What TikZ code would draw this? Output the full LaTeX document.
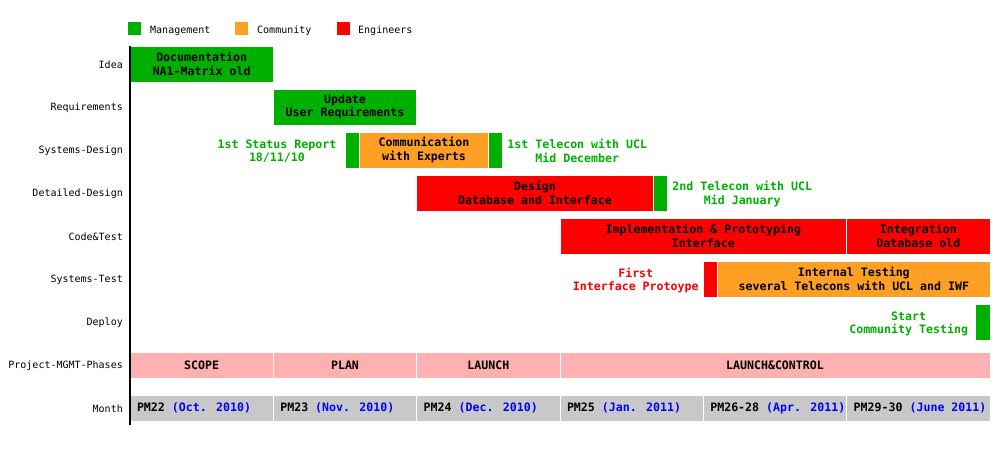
\documentclass[tikz,border=0pt]{standalone}
\usepackage{fontspec}
\setmainfont{DejaVu Sans Mono}
\definecolor{mgmt}{RGB}{0,176,0}
\definecolor{comm}{RGB}{255,160,36}
\definecolor{eng}{RGB}{255,0,0}
\definecolor{phasebg}{RGB}{255,176,176}
\definecolor{monthbg}{RGB}{200,200,200}
\definecolor{datecol}{RGB}{0,0,255}

\tikzset{
  rowlabel/.style={anchor=east, inner sep=0pt, font=\fontsize{10}{12}\selectfont},
  legtext/.style={anchor=west, inner sep=0pt, font=\fontsize{10}{12}\selectfont},
  legbox/.style={rectangle, inner sep=0pt, minimum size=13pt},
  barbase/.style={rectangle, draw=white, line width=1pt, inner sep=0pt,
    minimum height=36pt, align=center,
    font=\bfseries\fontsize{11.6}{13.5}\selectfont},
  stripbase/.style={barbase, minimum height=26pt},
  note/.style={inner sep=0pt, align=center,
    font=\bfseries\fontsize{11.6}{13.5}\selectfont},
  axis/.style={line width=1.5pt, black}
}

% bar: name, x-start, x-end, y-centre, colour, text
\newcommand\ganttbar[6]{%
  \node[barbase, fill=#5, minimum width={#3-#2}] (#1) at ({(#2+#3)/2},#4) {#6};}
% phase strip: name, x-start, x-end, text
\newcommand\phasecell[4]{%
  \node[stripbase, fill=phasebg, minimum width={#3-#2}] (#1) at ({(#2+#3)/2},365) {#4};}
% month strip: name, x-start, x-end, month id, date
\newcommand\monthcell[5]{%
  \node[stripbase, fill=monthbg, minimum width={#3-#2}, text width={#3-#2-14},
    inner xsep=7pt, align=flush left] (#1) at ({(#2+#3)/2},408)
    {\mbox{#4 \textcolor{datecol}{#5}}};}

\begin{document}
\begin{tikzpicture}[x=1pt, y=-1pt]
\useasboundingbox (0,0) rectangle (1000,450);

% legend
\node[legbox, fill=mgmt] (lgm) at (134.5,28.5) {};
\node[legtext] (lgmt) at (150,31) {Management};
\node[legbox, fill=comm] (lgc) at (241.5,28.5) {};
\node[legtext] (lgct) at (257,31) {Community};
\node[legbox, fill=eng] (lge) at (343.5,28.5) {};
\node[legtext] (lget) at (358,31) {Engineers};

% row labels
\node[rowlabel] (rIdea)  at (123,64.5)  {Idea};
\node[rowlabel] (rReq)   at (123,107.5) {Requirements};
\node[rowlabel] (rSD)    at (123,150.5) {Systems-Design};
\node[rowlabel] (rDD)    at (123,193.5) {Detailed-Design};
\node[rowlabel] (rCT)    at (123,236.5) {Code\&Test};
\node[rowlabel] (rST)    at (123,279.5) {Systems-Test};
\node[rowlabel] (rDep)   at (123,322.5) {Deploy};
\node[rowlabel] (rPh)    at (123,365.5) {Project-MGMT-Phases};
\node[rowlabel] (rMon)   at (123,408.5) {Month};

% activity bars
\ganttbar{doc}{130}{273.3}{64}{mgmt}{Documentation\\NA1-Matrix old}
\ganttbar{upd}{273.3}{416.7}{107}{mgmt}{Update\\User Requirements}
\ganttbar{sr}{345}{359.7}{150}{mgmt}{}
\ganttbar{comx}{359.7}{488.3}{150}{comm}{Communication\\with Experts}
\ganttbar{tc1}{488.3}{502.7}{150}{mgmt}{}
\ganttbar{des}{416.7}{653.3}{193}{eng}{Design\\Database and Interface}
\ganttbar{tc2}{653.3}{667.7}{193}{mgmt}{}
\ganttbar{impl}{560}{846.7}{236}{eng}{Implementation \& Prototyping\\Interface}
\ganttbar{integ}{846.7}{990}{236}{eng}{Integration\\Database old}
\ganttbar{proto}{703.3}{717.7}{279}{eng}{}
\ganttbar{itest}{717.7}{990}{279}{comm}{Internal Testing\\several Telecons with UCL and IWF}
\ganttbar{start}{975.7}{990}{322}{mgmt}{}

% milestone notes
\node[note, text=mgmt, anchor=east] (srn) at ([xshift=-8pt,yshift=-1pt]sr.west) {1st Status Report\\18/11/10};
\node[note, text=mgmt, anchor=west] (tc1n) at ([xshift=4pt,yshift=-1pt]tc1.east) {1st Telecon with UCL\\Mid December};
\node[note, text=mgmt, anchor=west] (tc2n) at ([xshift=4pt,yshift=-1pt]tc2.east) {2nd Telecon with UCL\\Mid January};
\node[note, text=eng, anchor=east] (proton) at ([xshift=-4pt,yshift=-1.5pt]proto.west) {First\\Interface Protoype};
\node[note, text=mgmt, anchor=east] (startn) at ([xshift=-7pt,yshift=-2pt]start.west) {Start\\Community Testing};

% project phases
\phasecell{scope}{130}{273.3}{SCOPE}
\phasecell{plan}{273.3}{416.7}{PLAN}
\phasecell{launch}{416.7}{560}{LAUNCH}
\phasecell{lctrl}{560}{990}{LAUNCH\&CONTROL}

% months
\monthcell{m22}{130}{273.3}{PM22}{(Oct. 2010)}
\monthcell{m23}{273.3}{416.7}{PM23}{(Nov. 2010)}
\monthcell{m24}{416.7}{560}{PM24}{(Dec. 2010)}
\monthcell{m25}{560}{703.3}{PM25}{(Jan. 2011)}
\monthcell{m26}{703.3}{846.7}{PM26-28}{(Apr. 2011)}
\monthcell{m29}{846.7}{990}{PM29-30}{(June 2011)}

% time axis
\coordinate (axtop) at (130,46);
\coordinate (axbot) at (130,425);
\draw[axis] (axtop) -- (axbot);
\end{tikzpicture}
\end{document}
